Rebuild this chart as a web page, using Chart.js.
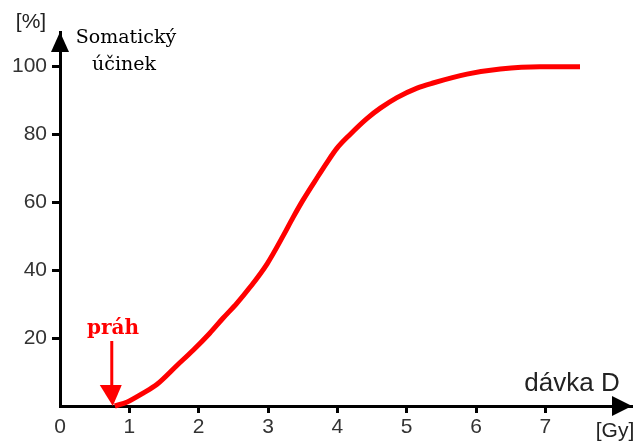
<!DOCTYPE html>
<html lang="cs">
<head>
  <meta charset="UTF-8" />
  <title>Somatický účinek</title>
  <script src="https://cdn.jsdelivr.net/npm/chart.js"></script>
  <style>
    html, body { margin: 0; padding: 0; background: #fff; }
    #wrap { width: 641px; height: 444px; }
  </style>
</head>
<body>
  <div id="wrap"><canvas id="graf" width="641" height="444"></canvas></div>

  <script>
    // dávka [Gy] a somatický účinek [%]
    const davka  = [0.79, 0.97, 1.20, 1.40, 1.69, 1.92, 2.16, 2.35, 2.55, 2.74, 2.99, 3.22, 3.36, 3.50, 3.71, 3.85, 3.99, 4.18, 4.43, 4.62, 4.86, 5.15, 5.38, 5.87, 6.35, 6.92, 7.50];
    const ucinek = [0,    1.2,  3.8,  6.4,  12.0, 16.4, 21.4, 25.8, 30.2, 34.9, 41.9, 50.1, 55.4, 60.4, 67.2, 71.6, 75.7, 79.8, 84.6, 87.6, 90.7, 93.5, 95.0, 97.6, 99.1, 99.8, 99.8];
    const xTicks = [0, 1, 2, 3, 4, 5, 6, 7];
    const yTicks = [20, 40, 60, 80, 100];
    const prah = 0.79;

    const sans = '"Liberation Sans", Arial, sans-serif';
    const serif = '"DejaVu Serif", Georgia, serif';

    // sipky na osach a popisky
    const popisky = {
      id: 'popisky',
      afterDraw(chart) {
        const { ctx, chartArea: a, scales: { x, y } } = chart;
        ctx.save();
        ctx.fillStyle = '#000';
        // sipka osy x
        ctx.beginPath();
        ctx.moveTo(a.right, a.bottom);
        ctx.lineTo(a.right - 20, a.bottom - 10);
        ctx.lineTo(a.right - 20, a.bottom + 10);
        ctx.closePath();
        ctx.fill();
        // sipka osy y
        ctx.beginPath();
        ctx.moveTo(a.left, a.top);
        ctx.lineTo(a.left - 9, a.top + 20);
        ctx.lineTo(a.left + 9, a.top + 20);
        ctx.closePath();
        ctx.fill();

        ctx.textAlign = 'center';
        ctx.textBaseline = 'middle';
        ctx.fillStyle = '#222';
        ctx.font = '21px ' + sans;
        ctx.fillText('[%]', 31, 22);
        ctx.fillText('[Gy]', 615, 431);
        ctx.font = '26px ' + sans;
        ctx.fillText('dávka D', 572, 384);
        ctx.fillStyle = '#000';
        ctx.font = '19px ' + serif;
        ctx.fillText('Somatický', 126, 38);
        ctx.fillText('účinek', 124, 65);

        // prah
        const px = x.getPixelForValue(prah);
        ctx.fillStyle = '#ff0000';
        ctx.font = 'bold 20px ' + serif;
        ctx.fillText('práh', 113, 329);
        ctx.strokeStyle = '#ff0000';
        ctx.lineWidth = 3;
        ctx.beginPath();
        ctx.moveTo(px - 3, 341);
        ctx.lineTo(px - 3, 388);
        ctx.stroke();
        ctx.beginPath();
        ctx.moveTo(px - 15, 385);
        ctx.lineTo(px + 7, 385);
        ctx.lineTo(px - 2, y.getPixelForValue(0));
        ctx.closePath();
        ctx.fill();
        ctx.restore();
      }
    };

    new Chart(document.getElementById('graf'), {
      type: 'scatter',
      data: {
        datasets: [{
          data: davka.map((d, i) => ({ x: d, y: ucinek[i] })),
          showLine: true,
          borderColor: '#ff0000',
          borderWidth: 5,
          pointRadius: 0,
          cubicInterpolationMode: 'monotone',
          clip: false
        }]
      },
      options: {
        responsive: false,
        animation: false,
        layout: { padding: { top: 32, right: 9, left: 0, bottom: 0 } },
        plugins: { legend: { display: false }, tooltip: { enabled: false } },
        scales: {
          x: {
            type: 'linear',
            min: 0,
            max: 8.25,
            afterBuildTicks: s => { s.ticks = xTicks.map(v => ({ value: v })); },
            afterFit: s => { s.height = 38; },
            border: { color: '#000', width: 3 },
            grid: {
              drawOnChartArea: false,
              tickLength: 7,
              tickWidth: 3,
              tickColor: c => c.tick && c.tick.value === 0 ? 'rgba(0,0,0,0)' : '#000'
            },
            ticks: {
              color: '#333',
              font: { family: sans, size: 21 },
              padding: 2,
              maxRotation: 0
            }
          },
          y: {
            min: 0,
            max: 110,
            afterBuildTicks: s => { s.ticks = yTicks.map(v => ({ value: v })); },
            afterFit: s => { s.width = 60; },
            border: { color: '#000', width: 3 },
            grid: {
              drawOnChartArea: false,
              tickLength: 8,
              tickWidth: 3,
              tickColor: '#000'
            },
            ticks: {
              color: '#333',
              font: { family: sans, size: 21 },
              padding: 5
            }
          }
        }
      },
      plugins: [popisky]
    });
  </script>
</body>
</html>
